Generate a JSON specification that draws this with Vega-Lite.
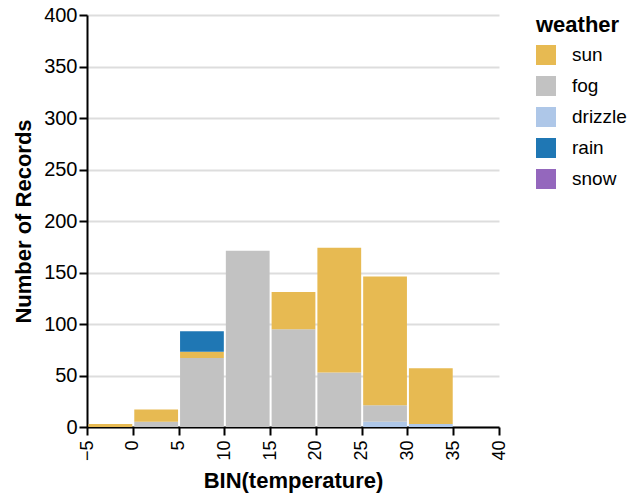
{
  "$schema": "https://vega.github.io/schema/vega-lite/v6.json",
  "width": 412,
  "height": 412,
  "padding": {"left": 12, "top": 5, "right": 5, "bottom": 5},
  "config": {
    "font": "Liberation Sans",
    "view": {"stroke": null}
  },
  "data": {
    "values": [
      {"bin_start": -5, "bin_end": 0, "weather": "sun", "count": 3},
      {"bin_start": 0, "bin_end": 5, "weather": "fog", "count": 5},
      {"bin_start": 0, "bin_end": 5, "weather": "sun", "count": 12},
      {"bin_start": 5, "bin_end": 10, "weather": "fog", "count": 67},
      {"bin_start": 5, "bin_end": 10, "weather": "sun", "count": 6},
      {"bin_start": 5, "bin_end": 10, "weather": "rain", "count": 20},
      {"bin_start": 10, "bin_end": 15, "weather": "fog", "count": 171},
      {"bin_start": 15, "bin_end": 20, "weather": "fog", "count": 95},
      {"bin_start": 15, "bin_end": 20, "weather": "sun", "count": 36},
      {"bin_start": 20, "bin_end": 25, "weather": "fog", "count": 53},
      {"bin_start": 20, "bin_end": 25, "weather": "sun", "count": 121},
      {"bin_start": 25, "bin_end": 30, "weather": "drizzle", "count": 5},
      {"bin_start": 25, "bin_end": 30, "weather": "fog", "count": 16},
      {"bin_start": 25, "bin_end": 30, "weather": "sun", "count": 125},
      {"bin_start": 30, "bin_end": 35, "weather": "drizzle", "count": 3},
      {"bin_start": 30, "bin_end": 35, "weather": "sun", "count": 54}
    ]
  },
  "transform": [
    {"calculate": "indexof(['drizzle','fog','sun','rain','snow'], datum.weather)", "as": "stackOrder"}
  ],
  "mark": {"type": "bar", "binSpacing": 2},
  "encoding": {
    "x": {"field": "bin_start", "type": "quantitative", "bin": {"binned": true, "step": 5},
          "scale": {"domain": [-5, 40]},
          "axis": {"title": "BIN(temperature)", "labelAngle": -90, "values": [-5,0,5,10,15,20,25,30,35,40], "grid": false, "labelPadding": 5,
                   "labelFontSize": 18, "titleFontSize": 22, "titleFontWeight": "bold", "labelColor": "#000", "titleColor": "#000", "domainColor": "#000", "tickColor": "#000", "domainWidth": 2, "tickWidth": 2, "tickSize": 8, "titlePadding": 10}},
    "x2": {"field": "bin_end"},
    "y": {"field": "count", "type": "quantitative", "aggregate": "sum", "title": "Number of Records",
          "scale": {"domain": [0, 400]},
          "axis": {"tickCount": 8, "labelFontSize": 20, "titleFontSize": 22, "titleFontWeight": "bold", "labelColor": "#000", "titleColor": "#000", "domainColor": "#000", "tickColor": "#000", "domainWidth": 2, "tickWidth": 2, "tickSize": 8, "gridColor": "#ddd", "gridWidth": 2, "titlePadding": 8}},
    "color": {"field": "weather", "type": "nominal",
              "scale": {"domain": ["sun", "fog", "drizzle", "rain", "snow"], "range": ["#e7ba52", "#c2c2c2", "#aec7e8", "#1f77b4", "#9467bd"]},
              "legend": {"title": "weather", "titleFontSize": 22, "labelFontSize": 19, "titleColor": "#000", "labelColor": "#000", "symbolSize": 400, "symbolType": "square", "symbolStrokeWidth": 0, "symbolOpacity": 1, "rowPadding": 11, "labelOffset": 16, "offset": 37, "titlePadding": 8}},
    "order": {"field": "stackOrder", "type": "quantitative"}
  }
}
